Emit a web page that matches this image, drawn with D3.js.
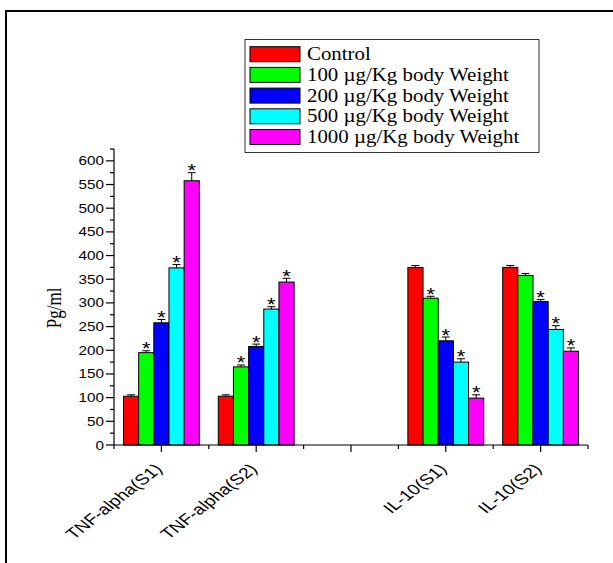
<!DOCTYPE html>
<html><head><meta charset="utf-8">
<script src="https://cdn.jsdelivr.net/npm/d3@7"></script>
<style>html,body{margin:0;padding:0;background:#fff;}svg{display:block;}</style>
</head><body>
<script>
// ---- data ----
const categories = ["TNF-alpha(S1)", "TNF-alpha(S2)", "", "IL-10(S1)", "IL-10(S2)"];
const groups = ["TNF-alpha(S1)", "TNF-alpha(S2)", "IL-10(S1)", "IL-10(S2)"];
const seriesNames = ["Control", "100 µg/Kg body Weight", "200 µg/Kg body Weight", "500 µg/Kg body Weight", "1000 µg/Kg body Weight"];
const seriesColors = ["#ff0000", "#00ff00", "#0000ff", "#00ffff", "#ff00ff"];
const controlVals = [103, 103, 375, 375];
const d100Vals = [195, 165, 310, 358];
const d200Vals = [258, 208, 220, 303];
const d500Vals = [374, 287, 175, 244];
const d1000Vals = [558, 344, 99, 198];
const controlErr = [3, 3, 4, 4];
const d100Err = [4, 4, 4, 4];
const d200Err = [7, 5, 8, 4];
const d500Err = [7, 5, 7, 8];
const d1000Err = [17, 8, 7, 7];
const controlStar = [0, 0, 0, 0];
const d100Star = [1, 1, 1, 0];
const d200Star = [1, 1, 1, 1];
const d500Star = [1, 1, 1, 1];
const d1000Star = [1, 1, 1, 1];
const yTicks = [0, 50, 100, 150, 200, 250, 300, 350, 400, 450, 500, 550, 600];
const yLabel = "Pg/ml";

const allVals = [controlVals, d100Vals, d200Vals, d500Vals, d1000Vals];
const allErr = [controlErr, d100Err, d200Err, d500Err, d1000Err];
const allStar = [controlStar, d100Star, d200Star, d500Star, d1000Star];

const W = 613, H = 563;
const svg = d3.select("body").append("svg").attr("width", W).attr("height", H);

// outer frame
svg.append("rect").attr("x", 6).attr("y", 11).attr("width", W + 10).attr("height", H + 10)
  .attr("fill", "none").attr("stroke", "#000").attr("stroke-width", 2);

const x0 = d3.scaleBand().domain(categories).range([114, 588]).padding(0);
const x1 = d3.scaleBand().domain(d3.range(seriesNames.length))
  .range([x0.bandwidth() * 0.1, x0.bandwidth() * 0.9]).padding(0);
const y = d3.scaleLinear().domain([0, 625]).range([445, 149]);

const SX = 1.22; // horizontal stretch of the original picture's text

// bars
const barData = [];
groups.forEach((g, gi) => {
  seriesNames.forEach((s, si) => {
    barData.push({g, si, v: allVals[si][gi], e: allErr[si][gi], star: allStar[si][gi]});
  });
});

const plot = svg.append("g");
plot.selectAll("rect.bar").data(barData).join("rect").attr("class", "bar")
  .attr("x", d => x0(d.g) + x1(d.si))
  .attr("y", d => y(d.v))
  .attr("width", x1.bandwidth())
  .attr("height", d => y(0) - y(d.v))
  .attr("fill", d => seriesColors[d.si])
  .attr("stroke", "#000").attr("stroke-width", 1);

// error bars
const eb = plot.selectAll("g.err").data(barData).join("g").attr("class", "err");
eb.append("line")
  .attr("x1", d => x0(d.g) + x1(d.si) + x1.bandwidth() / 2)
  .attr("x2", d => x0(d.g) + x1(d.si) + x1.bandwidth() / 2)
  .attr("y1", d => y(d.v)).attr("y2", d => y(d.v + d.e))
  .attr("stroke", "#000").attr("stroke-width", 1);
eb.append("line")
  .attr("x1", d => x0(d.g) + x1(d.si) + x1.bandwidth() / 2 - 4)
  .attr("x2", d => x0(d.g) + x1(d.si) + x1.bandwidth() / 2 + 4)
  .attr("y1", d => y(d.v + d.e)).attr("y2", d => y(d.v + d.e))
  .attr("stroke", "#000").attr("stroke-width", 1);

// stars
plot.selectAll("text.star").data(barData.filter(d => d.star)).join("text").attr("class", "star")
  .attr("transform", d => `translate(${x0(d.g) + x1(d.si) + x1.bandwidth() / 2},${y(d.v + d.e) + 4.5}) scale(1.15,1)`)
  .attr("text-anchor", "middle")
  .attr("font-family", "Liberation Sans, Arial, sans-serif").attr("font-size", 19)
  .text("*");

// y axis
const yAxisG = svg.append("g").attr("transform", "translate(114,0)");
yAxisG.append("line").attr("x1", 0).attr("x2", 0).attr("y1", y(0)).attr("y2", y(625))
  .attr("stroke", "#000").attr("stroke-width", 1.2);
const minorY = d3.range(25, 626, 50);
yAxisG.selectAll("line.maj").data(yTicks).join("line").attr("class", "maj")
  .attr("x1", -8).attr("x2", 0).attr("y1", d => y(d)).attr("y2", d => y(d))
  .attr("stroke", "#000").attr("stroke-width", 1.2);
yAxisG.selectAll("line.min").data(minorY).join("line").attr("class", "min")
  .attr("x1", -4).attr("x2", 0).attr("y1", d => y(d)).attr("y2", d => y(d))
  .attr("stroke", "#000").attr("stroke-width", 1.2);
yAxisG.selectAll("text").data(yTicks).join("text")
  .attr("transform", d => `translate(-10,${y(d) + 4.5}) scale(${SX},1)`)
  .attr("text-anchor", "end")
  .attr("font-family", "Liberation Sans, Arial, sans-serif").attr("font-size", 12.5)
  .text(d => d);

// y label
svg.append("text")
  .attr("transform", `translate(61,${(y(0) + y(600)) / 2 + 5}) scale(1.2,1) rotate(-90)`)
  .attr("text-anchor", "middle")
  .attr("font-family", "Liberation Serif, Times New Roman, serif").attr("font-size", 17)
  .text(yLabel);

// x axis
const xAxisG = svg.append("g");
xAxisG.append("line").attr("x1", 114).attr("x2", 588).attr("y1", y(0)).attr("y2", y(0))
  .attr("stroke", "#000").attr("stroke-width", 1.2);
xAxisG.selectAll("line.maj").data(categories).join("line").attr("class", "maj")
  .attr("x1", d => x0(d) + x0.bandwidth() / 2).attr("x2", d => x0(d) + x0.bandwidth() / 2)
  .attr("y1", y(0)).attr("y2", y(0) + 7).attr("stroke", "#000").attr("stroke-width", 1.2);
const bounds = categories.map(c => x0(c)).concat([x0.range()[1]]);
xAxisG.selectAll("line.min").data(bounds).join("line").attr("class", "min")
  .attr("x1", d => d).attr("x2", d => d)
  .attr("y1", y(0)).attr("y2", y(0) + 4).attr("stroke", "#000").attr("stroke-width", 1.2);
xAxisG.selectAll("text").data(categories.filter(c => c !== "")).join("text")
  .attr("transform", d => `translate(${x0(d) + x0.bandwidth() / 2 + 2},470) scale(1.28,1) rotate(-45)`)
  .attr("text-anchor", "end")
  .attr("font-family", "Liberation Sans, Arial, sans-serif").attr("font-size", 15)
  .text(d => d);

// legend
const lg = svg.append("g");
lg.append("rect").attr("x", 245).attr("y", 39.5).attr("width", 294).attr("height", 113)
  .attr("fill", "#fff").attr("stroke", "#333").attr("stroke-width", 1);
const rows = lg.selectAll("g.row").data(seriesNames).join("g").attr("class", "row")
  .attr("transform", (d, i) => `translate(0,${46.7 + i * 20.7})`);
rows.append("rect").attr("x", 250).attr("y", 0).attr("width", 50).attr("height", 15)
  .attr("fill", (d, i) => seriesColors[i]).attr("stroke", "#000").attr("stroke-width", 1);
rows.append("text")
  .attr("transform", "translate(307,13.5) scale(1.16,1)")
  .attr("font-family", "Liberation Serif, Times New Roman, serif").attr("font-size", 18)
  .text(d => d);
</script>
</body></html>
